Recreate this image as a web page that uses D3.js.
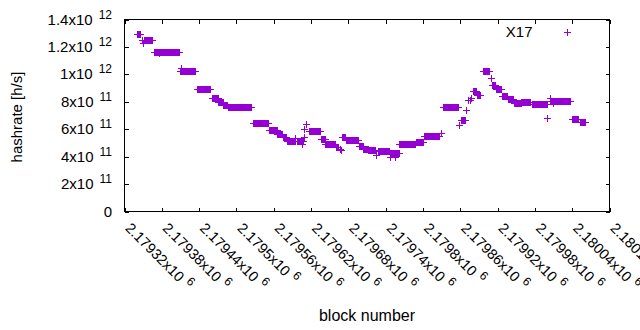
<!DOCTYPE html>
<html>
<head>
<meta charset="utf-8">
<script src="https://cdn.jsdelivr.net/npm/d3@7"></script>
<style>
  body { margin: 0; background: #fff; }
  svg { display: block; font-family: 'Liberation Sans', Arial, sans-serif; }
</style>
</head>
<body>
<svg></svg>
<script>
// runs of consecutive blocks that share one hashrate (rate in units of 1e11 h/s)
const runStart = [2179340, 2179352, 2179367, 2179410, 2179437, 2179460, 2179471, 2179479, 2179486,
                  2179526, 2179552, 2179566, 2179575, 2179581, 2179598, 2179616, 2179636, 2179643,
                  2179660, 2179669, 2179676, 2179697, 2179704, 2179712, 2179728, 2179747, 2179762,
                  2179789, 2179801, 2179832, 2179861, 2179880, 2179887, 2179896, 2179911, 2179917,
                  2179927, 2179936, 2179946, 2179958, 2179975, 2180004, 2180040, 2180053];
const runEnd   = [2179345, 2179365, 2179408, 2179434, 2179458, 2179470, 2179478, 2179485, 2179523,
                  2179551, 2179565, 2179574, 2179580, 2179594, 2179607, 2179635, 2179642, 2179659,
                  2179664, 2179675, 2179696, 2179703, 2179711, 2179722, 2179746, 2179761, 2179787,
                  2179800, 2179826, 2179857, 2179867, 2179886, 2179892, 2179906, 2179916, 2179926,
                  2179935, 2179945, 2179957, 2179972, 2179999, 2180037, 2180050, 2180060];
const runRate  = [12.92, 12.47, 11.65, 10.27, 8.93, 8.25, 7.98, 7.78, 7.60,
                  6.48, 5.94, 5.67, 5.40, 5.12, 5.14, 5.89, 5.26, 4.90,
                  4.70, 5.41, 5.21, 4.78, 4.59, 4.45, 4.39, 4.24, 4.90,
                  5.09, 5.48, 7.64, 6.67, 8.79, 8.52, 10.27, 9.20, 8.93,
                  8.40, 8.17, 7.89, 7.98, 7.82, 8.04, 6.72, 6.49];

// blocks that stand apart from the runs
const loneBlock = [2179348, 2179350, 2179376, 2179411, 2179595, 2179605, 2179608, 2179609, 2179612,
                   2179666, 2179668, 2179723, 2179725, 2179747, 2179755, 2179829, 2179858, 2179870,
                   2179872, 2179875, 2179878, 2179909, 2180000, 2180004, 2180009];
const loneRate  = [12.47, 12.27, 11.58, 10.43, 5.34, 4.90, 5.45, 5.98, 6.36,
                   4.55, 4.48, 4.48, 4.12, 3.94, 3.94, 5.76, 6.31, 7.40,
                   8.13, 8.13, 8.28, 9.71, 6.80, 8.29, 7.88];

const xTicks = [2179320, 2179380, 2179440, 2179500, 2179560, 2179620, 2179680,
                2179740, 2179800, 2179860, 2179920, 2179980, 2180040, 2180100];
const xTickBase = ['2.17932', '2.17938', '2.17944', '2.1795', '2.17956', '2.17962', '2.17968',
                   '2.17974', '2.1798', '2.17986', '2.17992', '2.17998', '2.18004', '2.1801'];
const yTicks = [0, 2e11, 4e11, 6e11, 8e11, 1e12, 1.2e12, 1.4e12];
const yTickBase = ['0', '2', '4', '6', '8', '1', '1.2', '1.4'];
const yTickExp = ['', '11', '11', '11', '11', '12', '12', '12'];

const seriesName = 'X17';
const color = '#9400d3';

const width = 640;
const height = 330;
const plotLeft = 124.5;
const plotRight = 609.5;
const plotTop = 19.5;
const plotBottom = 211.5;
const fontSize = 15;

const points = [];
runStart.forEach((s, i) => {
  for (let b = s; b <= runEnd[i]; b++) points.push({ block: b, rate: runRate[i] * 1e11 });
});
loneBlock.forEach((b, i) => points.push({ block: b, rate: loneRate[i] * 1e11 }));

const xScale = d3.scaleLinear()
                 .domain([xTicks[0], xTicks[xTicks.length - 1]])
                 .range([plotLeft, plotRight]);

const yScale = d3.scaleLinear()
                 .domain([0, 1.4e12])
                 .range([plotBottom, plotTop]);

const svg = d3.select('svg')
              .attr('width', width)
              .attr('height', height)
              .style('font-size', fontSize + 'px');

// tick marks, inward on all four sides
const tickLen = 4;
svg.append('g')
    .attr('transform', `translate(0, ${plotBottom})`)
    .call(d3.axisBottom(xScale).tickValues(xTicks).tickSize(-tickLen).tickSizeOuter(0).tickFormat(''));
svg.append('g')
    .attr('transform', `translate(0, ${plotTop})`)
    .call(d3.axisTop(xScale).tickValues(xTicks).tickSize(-tickLen).tickSizeOuter(0).tickFormat(''));
svg.append('g')
    .attr('transform', `translate(${plotLeft}, 0)`)
    .call(d3.axisLeft(yScale).tickValues(yTicks).tickSize(-tickLen).tickSizeOuter(0).tickFormat(''));
svg.append('g')
    .attr('transform', `translate(${plotRight}, 0)`)
    .call(d3.axisRight(yScale).tickValues(yTicks).tickSize(-tickLen).tickSizeOuter(0).tickFormat(''));
svg.selectAll('.domain').remove();
svg.selectAll('.tick line').attr('stroke', '#000').attr('shape-rendering', 'crispEdges');

svg.append('rect')
    .attr('x', plotLeft)
    .attr('y', plotTop)
    .attr('width', plotRight - plotLeft)
    .attr('height', plotBottom - plotTop)
    .attr('fill', 'none')
    .attr('stroke', '#000')
    .attr('shape-rendering', 'crispEdges');

// y tick labels with superscript exponents
const yLabels = svg.selectAll('.ylabel')
  .data(yTicks)
  .enter()
  .append('text')
    .attr('class', 'ylabel')
    .attr('x', 112)
    .attr('y', (d) => yScale(d) + 5)
    .style('text-anchor', 'end');
yLabels.append('tspan').text((d, i) => yTickExp[i] ? yTickBase[i] + 'x10' : yTickBase[i]);
yLabels.append('tspan')
    .attr('dx', 6)
    .attr('dy', -6)
    .style('font-size', '12px')
    .text((d, i) => yTickExp[i]);

// x tick labels, rotated
const xLabels = svg.selectAll('.xlabel')
  .data(xTicks)
  .enter()
  .append('text')
    .attr('class', 'xlabel')
    .attr('transform', (d) => `translate(${xScale(d)}, 229) rotate(45)`)
    .style('font-size', '14.5px');
xLabels.append('tspan').text((d, i) => xTickBase[i] + 'x10');
xLabels.append('tspan')
    .attr('dx', 5)
    .attr('dy', -6)
    .style('font-size', '12px')
    .text('6');

// data points as "+" marks
const arm = 3.5;
const plus = (x, y) => `M${x - arm},${y}H${x + arm}M${x},${y - arm}V${y + arm}`;

svg.append('g')
  .selectAll('path')
  .data(points)
  .enter()
  .append('path')
    .attr('d', (d) => plus(Math.round(xScale(d.block)) + 0.5, Math.round(yScale(d.rate)) + 0.5))
    .attr('stroke', color)
    .attr('fill', 'none')
    .attr('shape-rendering', 'crispEdges');

// legend
svg.append('text')
    .text(seriesName)
    .attr('x', 532.5)
    .attr('y', 37)
    .style('text-anchor', 'end');
svg.append('path')
    .attr('d', plus(567.5, 32.5))
    .attr('stroke', color)
    .attr('shape-rendering', 'crispEdges');

// axis titles
svg.append('text')
    .text('block number')
    .attr('x', (plotLeft + plotRight) / 2)
    .attr('y', 321)
    .style('text-anchor', 'middle')
    .style('font-size', '16px');

svg.append('text')
    .text('hashrate [h/s]')
    .attr('x', -117)
    .attr('y', 22)
    .attr('transform', 'rotate(-90)')
    .style('text-anchor', 'middle');
</script>
</body>
</html>
